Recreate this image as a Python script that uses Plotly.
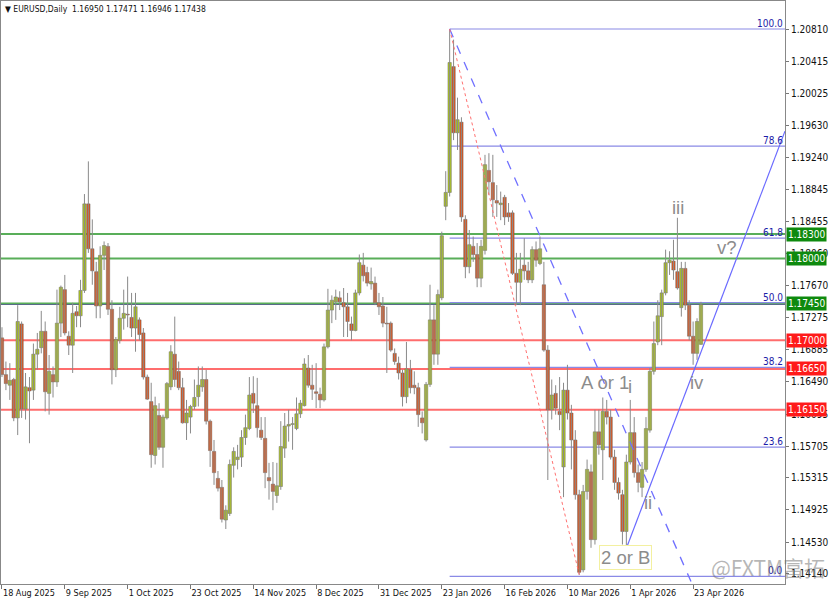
import plotly.graph_objects as go

# ---------------- data (EURUSD daily) ----------------
tick_idx = [0, 16, 32, 48, 64, 80, 96, 112, 128, 144, 160, 176]
tick_text = ["18 Aug 2025", "9 Sep 2025", "1 Oct 2025", "23 Oct 2025", "14 Nov 2025",
             "8 Dec 2025", "31 Dec 2025", "23 Jan 2026", "16 Feb 2026", "10 Mar 2026",
             "1 Apr 2026", "23 Apr 2026"]

opens = [
    1.1703, 1.1658, 1.1645, 1.1652, 1.1605, 1.1720, 1.1616, 1.1642, 1.1639, 1.1683,
    1.1691, 1.1711, 1.1635, 1.1658, 1.1649, 1.1721, 1.1762, 1.1705, 1.1694, 1.1735,
    1.1730, 1.1761, 1.1867, 1.1812, 1.1784, 1.1742, 1.1804, 1.1815, 1.1738, 1.1664,
    1.1700, 1.1727, 1.1732, 1.1728, 1.1715, 1.1725, 1.1709, 1.1655, 1.1625, 1.1559,
    1.1608, 1.1569, 1.1605, 1.1643, 1.1683, 1.1662, 1.1642, 1.1599, 1.1606, 1.1619,
    1.1631, 1.1643, 1.1652, 1.1601, 1.1564, 1.1531, 1.1520, 1.1480, 1.1488, 1.1547,
    1.1554, 1.1557, 1.1581, 1.1592, 1.1635, 1.1620, 1.1590, 1.1580, 1.1532, 1.1524,
    1.1510, 1.1521, 1.1568, 1.1595, 1.1597, 1.1592, 1.1610, 1.1620, 1.1666, 1.1645,
    1.1637, 1.1634, 1.1627, 1.1692, 1.1737, 1.1747, 1.1752, 1.1746, 1.1741, 1.1720,
    1.1712, 1.1758, 1.1792, 1.1783, 1.1769, 1.1770, 1.1746, 1.1742, 1.1721, 1.1721,
    1.1684, 1.1672, 1.1660, 1.1631, 1.1664, 1.1645, 1.1642, 1.1605, 1.1578, 1.1646,
    1.1725, 1.1683, 1.1752, 1.1864, 1.1881, 1.2035, 1.1954, 1.1967, 1.1848, 1.1790,
    1.1815, 1.1805, 1.1776, 1.1810, 1.1908, 1.1893, 1.1871, 1.1866, 1.1875, 1.1856,
    1.1856, 1.1782, 1.1771, 1.1792, 1.1785, 1.1774, 1.1811, 1.1794, 1.1768, 1.1688,
    1.1615, 1.1635, 1.1613, 1.1545, 1.1639, 1.1611, 1.1578, 1.1511, 1.1419, 1.1515,
    1.1539, 1.1456, 1.1588, 1.1566, 1.1613, 1.1606, 1.1557, 1.1526, 1.1511, 1.1466,
    1.1551, 1.1587, 1.1538, 1.1520, 1.1542, 1.1590, 1.1662, 1.1698, 1.1729, 1.1758,
    1.1795, 1.1797, 1.1784, 1.1740, 1.1788, 1.1743, 1.1705, 1.1684, 1.16950]

highs = [
    1.1716, 1.1674, 1.1672, 1.1654, 1.1743, 1.1723, 1.1660, 1.1655, 1.1696, 1.1709,
    1.1736, 1.1723, 1.1682, 1.1668, 1.1762, 1.1767, 1.1780, 1.1711, 1.1746, 1.1742,
    1.1774, 1.1879, 1.1919, 1.1848, 1.1796, 1.1815, 1.1821, 1.1819, 1.1749, 1.1704,
    1.1741, 1.1762, 1.1778, 1.1758, 1.1758, 1.1728, 1.1715, 1.1658, 1.1648, 1.1631,
    1.1623, 1.1609, 1.1649, 1.1694, 1.1729, 1.1674, 1.1654, 1.1627, 1.1621, 1.1652,
    1.1668, 1.1668, 1.1664, 1.1603, 1.1578, 1.1540, 1.1529, 1.1498, 1.1554, 1.1569,
    1.1572, 1.1590, 1.1609, 1.1655, 1.1656, 1.1654, 1.1606, 1.1606, 1.1550, 1.1551,
    1.1550, 1.1601, 1.1611, 1.1615, 1.1606, 1.1630, 1.1627, 1.1678, 1.1682, 1.1670,
    1.1672, 1.1642, 1.1696, 1.1763, 1.1755, 1.1762, 1.1760, 1.1764, 1.1758, 1.1729,
    1.1762, 1.1805, 1.1807, 1.1790, 1.1789, 1.1778, 1.1758, 1.1753, 1.1741, 1.1723,
    1.1690, 1.1680, 1.1664, 1.1698, 1.1676, 1.1662, 1.1648, 1.1613, 1.1649, 1.1768,
    1.1743, 1.1762, 1.1833, 1.1907, 1.2081, 1.2068, 1.1997, 1.1973, 1.1853, 1.1835,
    1.1827, 1.1819, 1.1823, 1.1927, 1.1929, 1.1927, 1.1890, 1.1882, 1.1878, 1.1868,
    1.1859, 1.1807, 1.1807, 1.1825, 1.1796, 1.1815, 1.1821, 1.1827, 1.1796, 1.1694,
    1.1652, 1.1645, 1.1655, 1.1648, 1.1670, 1.1621, 1.1590, 1.1517, 1.1523, 1.1554,
    1.1548, 1.1615, 1.1615, 1.1630, 1.1627, 1.1615, 1.1566, 1.1532, 1.1517, 1.1560,
    1.1627, 1.1606, 1.1548, 1.1551, 1.1606, 1.1666, 1.1723, 1.1749, 1.1762, 1.1811,
    1.1809, 1.1823, 1.1850, 1.1796, 1.1796, 1.1749, 1.1723, 1.1727, 1.17471]

lows = [
    1.1655, 1.1639, 1.1627, 1.1601, 1.1584, 1.1605, 1.1603, 1.1574, 1.1627, 1.1664,
    1.1684, 1.1613, 1.1609, 1.1630, 1.1643, 1.1704, 1.1706, 1.1682, 1.1660, 1.1716,
    1.1716, 1.1758, 1.1807, 1.1768, 1.1727, 1.1727, 1.1786, 1.1731, 1.1646, 1.1655,
    1.1696, 1.1713, 1.1716, 1.1704, 1.1686, 1.1700, 1.1652, 1.1627, 1.1544, 1.1548,
    1.1566, 1.1544, 1.1603, 1.1639, 1.1643, 1.1639, 1.1598, 1.1578, 1.1586, 1.1615,
    1.1619, 1.1637, 1.1597, 1.1545, 1.1523, 1.1515, 1.1477, 1.1469, 1.1485, 1.1532,
    1.1542, 1.1545, 1.1572, 1.1590, 1.1611, 1.1581, 1.1578, 1.1519, 1.1505, 1.1492,
    1.1501, 1.1517, 1.1556, 1.1576, 1.1566, 1.1590, 1.1605, 1.1619, 1.1642, 1.1627,
    1.1617, 1.1617, 1.1625, 1.1690, 1.1721, 1.1725, 1.1737, 1.1704, 1.1704, 1.1700,
    1.1711, 1.1755, 1.1772, 1.1766, 1.1762, 1.1743, 1.1731, 1.1716, 1.1660, 1.1686,
    1.1670, 1.1652, 1.1619, 1.1623, 1.1635, 1.1634, 1.1594, 1.1586, 1.1576, 1.1643,
    1.1670, 1.1670, 1.1749, 1.1847, 1.1876, 1.1945, 1.1933, 1.1845, 1.1776, 1.1782,
    1.1796, 1.1765, 1.1765, 1.1805, 1.1878, 1.1851, 1.1851, 1.1847, 1.1841, 1.1845,
    1.1780, 1.1743, 1.1743, 1.1774, 1.1770, 1.1770, 1.1790, 1.1792, 1.1686, 1.1529,
    1.1603, 1.1609, 1.1590, 1.1508, 1.1603, 1.1542, 1.1505, 1.1413, 1.1416, 1.1505,
    1.1446, 1.1450, 1.1560, 1.1529, 1.1597, 1.1554, 1.1517, 1.1505, 1.1450, 1.1448,
    1.1548, 1.1532, 1.1514, 1.1508, 1.1539, 1.1587, 1.1658, 1.1694, 1.1694, 1.1755,
    1.1780, 1.1774, 1.1762, 1.1729, 1.1737, 1.1700, 1.1670, 1.1676, 1.16946]

closes = [
    1.1658, 1.1647, 1.1651, 1.1605, 1.1723, 1.1616, 1.1643, 1.1638, 1.1683, 1.1689,
    1.1711, 1.1637, 1.1662, 1.1649, 1.1721, 1.1765, 1.1709, 1.1694, 1.1733, 1.1730,
    1.1761, 1.1867, 1.1812, 1.1785, 1.1742, 1.1804, 1.1816, 1.1738, 1.1664, 1.1701,
    1.1727, 1.1733, 1.1731, 1.1715, 1.1741, 1.1707, 1.1655, 1.1628, 1.1560, 1.1620,
    1.1569, 1.1606, 1.1647, 1.1686, 1.1652, 1.1642, 1.1599, 1.1611, 1.1619, 1.1630,
    1.1645, 1.1652, 1.1601, 1.1565, 1.1538, 1.1519, 1.1481, 1.1492, 1.1548, 1.1564,
    1.1557, 1.1581, 1.1593, 1.1633, 1.1623, 1.1593, 1.1581, 1.1538, 1.1528, 1.1515,
    1.1522, 1.1570, 1.1595, 1.1597, 1.1598, 1.1610, 1.1623, 1.1671, 1.1645, 1.1640,
    1.1635, 1.1627, 1.1692, 1.1737, 1.1749, 1.1753, 1.1747, 1.1741, 1.1723, 1.1712,
    1.1758, 1.1795, 1.1779, 1.1770, 1.1772, 1.1746, 1.1741, 1.1721, 1.1720, 1.1688,
    1.1674, 1.1660, 1.1631, 1.1665, 1.1642, 1.1642, 1.1609, 1.1599, 1.1646, 1.1725,
    1.1683, 1.1756, 1.1828, 1.1881, 1.2040, 1.1954, 1.1970, 1.1851, 1.1790, 1.1817,
    1.1805, 1.1776, 1.1815, 1.1915, 1.1894, 1.1872, 1.1868, 1.1868, 1.1851, 1.1851,
    1.1782, 1.1771, 1.1787, 1.1785, 1.1774, 1.1811, 1.1798, 1.1812, 1.1688, 1.1615,
    1.1633, 1.1617, 1.1609, 1.1639, 1.1611, 1.1578, 1.1511, 1.1416, 1.1515, 1.1542,
    1.1456, 1.1588, 1.1572, 1.1613, 1.1606, 1.1557, 1.1526, 1.1513, 1.1466, 1.1551,
    1.1587, 1.1538, 1.1526, 1.1542, 1.1592, 1.1662, 1.1696, 1.1730, 1.1758, 1.1795,
    1.1798, 1.1786, 1.1764, 1.1788, 1.1743, 1.1705, 1.1684, 1.1723, 1.17438]

price_ticks = [1.20810, 1.20415, 1.20025, 1.19630, 1.19240, 1.18845, 1.18455, 1.18060,
               1.17670, 1.17275, 1.16885, 1.16490, 1.16095, 1.15705, 1.15315, 1.14925,
               1.14530, 1.14140]

green_levels = [1.18300, 1.18000, 1.17450]
red_levels = [1.17000, 1.16650, 1.16150]
bid_price = 1.17438

fib_high = 1.2081
fib_low = 1.1411
fib_ratios = [100.0, 78.6, 61.8, 50.0, 38.2, 23.6, 0.0]
fib_start_idx = 114

# trend lines: (idx0, price0, idx1, price1)
dashed_line = (114, 1.2081, 175.7, 1.1402)
dotted_line = (114, 1.2081, 147, 1.1413)
rising_line = (159.2, 1.1448, 199.4, 1.1956)

# wave labels: (text, idx, price)
wave_labels = [("iii", 172.1, 1.1863), ("v?", 184.6, 1.1814), ("iv", 177.0, 1.1648),
               ("A or 1", 153.6, 1.1648), ("i", 159.8, 1.1643), ("ii", 164.5, 1.1501)]
box_label = ("2 or B", 158.9, 1.1434)

# ---------------- figure ----------------
X_MIN, X_MAX = -0.25, 199.4
Y_MIN, Y_MAX = 1.14017, 1.21153
AX_FONT = "DejaVu Sans Condensed, Liberation Sans, sans-serif"
BULL, BEAR = "#b2ca1e", "#e2561c"
MIN_BODY = 0.00006

xs = list(range(len(closes)))
fig = go.Figure()

# wicks
wx, wy = [], []
for i, (h, l) in enumerate(zip(highs, lows)):
    wx += [i, i, None]
    wy += [l, h, None]
fig.add_trace(go.Scatter(x=wx, y=wy, mode="lines", line=dict(color="#8a8a8a", width=1),
                         hoverinfo="skip", showlegend=False))

# bodies
for up in (True, False):
    bx, bbase, bh = [], [], []
    for i, (o, c) in enumerate(zip(opens, closes)):
        if (c >= o) == up:
            bx.append(i)
            bbase.append(min(o, c))
            bh.append(max(abs(c - o), MIN_BODY))
    fig.add_trace(go.Bar(x=bx, y=bh, base=bbase, width=0.85,
                         marker=dict(color=BULL if up else BEAR, line=dict(color="#666666", width=0.5)),
                         hoverinfo="skip", showlegend=False))

shapes = []
for lv in green_levels:
    shapes.append(dict(type="line", xref="x", yref="y", x0=X_MIN, x1=X_MAX, y0=lv, y1=lv,
                       line=dict(color="rgba(60,160,60,0.85)", width=2), layer="below"))
for lv in red_levels:
    shapes.append(dict(type="line", xref="x", yref="y", x0=X_MIN, x1=X_MAX, y0=lv, y1=lv,
                       line=dict(color="rgba(255,60,60,0.75)", width=2), layer="below"))
shapes.append(dict(type="line", xref="x", yref="y", x0=X_MIN, x1=X_MAX, y0=bid_price, y1=bid_price,
                   line=dict(color="rgba(70,80,130,0.8)", width=1), layer="below"))

for r in fib_ratios:
    lv = fib_low + (fib_high - fib_low) * r / 100.0
    shapes.append(dict(type="line", xref="x", yref="y", x0=fib_start_idx, x1=X_MAX, y0=lv, y1=lv,
                       line=dict(color="#8a8ae6", width=1.2), layer="below"))

shapes.append(dict(type="line", xref="x", yref="y", x0=dashed_line[0], y0=dashed_line[1],
                   x1=dashed_line[2], y1=dashed_line[3],
                   line=dict(color="#7070ff", width=1.3, dash="dash")))
shapes.append(dict(type="line", xref="x", yref="y", x0=dotted_line[0], y0=dotted_line[1],
                   x1=dotted_line[2], y1=dotted_line[3],
                   line=dict(color="#ff7070", width=1, dash="dot")))
shapes.append(dict(type="line", xref="x", yref="y", x0=rising_line[0], y0=rising_line[1],
                   x1=rising_line[2], y1=rising_line[3],
                   line=dict(color="#6a6aff", width=1.2)))

annotations = []
annotations.append(dict(text="▼ EURUSD,Daily  1.16950 1.17471 1.16946 1.17438",
                        xref="paper", yref="paper", x=0.003, y=0.998, xanchor="left", yanchor="top",
                        showarrow=False, font=dict(family=AX_FONT, size=8.5, color="#111")))
for r in fib_ratios:
    lv = fib_low + (fib_high - fib_low) * r / 100.0
    annotations.append(dict(text=f"{r:.1f}", xref="paper", yref="y", x=1.0, y=lv,
                            xanchor="right", yanchor="bottom", showarrow=False, yshift=-2,
                            font=dict(family=AX_FONT, size=10, color="#1c1ca8")))
for lv in green_levels:
    annotations.append(dict(text=f"{lv:.5f}", xref="paper", yref="y", x=1.0, y=lv, xanchor="left",
                            xshift=1, showarrow=False, bgcolor="#0e8a0e", borderpad=1,
                            font=dict(family=AX_FONT, size=10, color="white")))
for lv in red_levels:
    annotations.append(dict(text=f"{lv:.5f}", xref="paper", yref="y", x=1.0, y=lv, xanchor="left",
                            xshift=1, showarrow=False, bgcolor="#ff1a1a", borderpad=1,
                            font=dict(family=AX_FONT, size=10, color="white")))
for t, xi, yv in wave_labels:
    annotations.append(dict(text=t, x=xi, y=yv, xref="x", yref="y", showarrow=False,
                            font=dict(family="Liberation Sans, Arial", size=18.5, color="#8c8c8c")))
annotations.append(dict(text=box_label[0], x=box_label[1], y=box_label[2], xref="x", yref="y",
                        showarrow=False, bordercolor="#f3f0a0", borderwidth=1, borderpad=1,
                        bgcolor="white",
                        font=dict(family="Liberation Sans, Arial", size=18.5, color="#8c8c8c")))
annotations.append(dict(text="@FXTM富拓", xref="paper", yref="paper", x=1.053, y=0.0,
                        xanchor="right", yanchor="bottom", showarrow=False,
                        font=dict(family="Noto Sans CJK SC", size=21, color="rgba(110,110,110,0.5)")))

fig.update_layout(
    width=832, height=606,
    margin=dict(l=1, r=47, t=1, b=22, autoexpand=False),
    paper_bgcolor="white", plot_bgcolor="white",
    shapes=shapes, annotations=annotations,
    showlegend=False, hovermode=False, barmode="overlay",
    xaxis=dict(range=[X_MIN, X_MAX], tickmode="array", tickvals=tick_idx, ticktext=tick_text,
               tickangle=0, automargin=False,
               ticks="outside", ticklen=4, tickcolor="#777", showgrid=False, zeroline=False,
               showline=True, linecolor="#888", linewidth=1, mirror=True,
               ticklabelposition="outside right",
               tickfont=dict(family=AX_FONT, size=9, color="#111")),
    yaxis=dict(range=[Y_MIN, Y_MAX], side="right", tickmode="array", tickvals=price_ticks,
               tickformat=".5f", automargin=False,
               ticks="outside", ticklen=3, tickcolor="#777", showgrid=False, zeroline=False,
               showline=True, linecolor="#888", linewidth=1, mirror=True,
               tickfont=dict(family=AX_FONT, size=10, color="#111")),
)

fig.write_html("out.html", config={"displayModeBar": False},
               post_script="document.body.style.margin='0px';")
